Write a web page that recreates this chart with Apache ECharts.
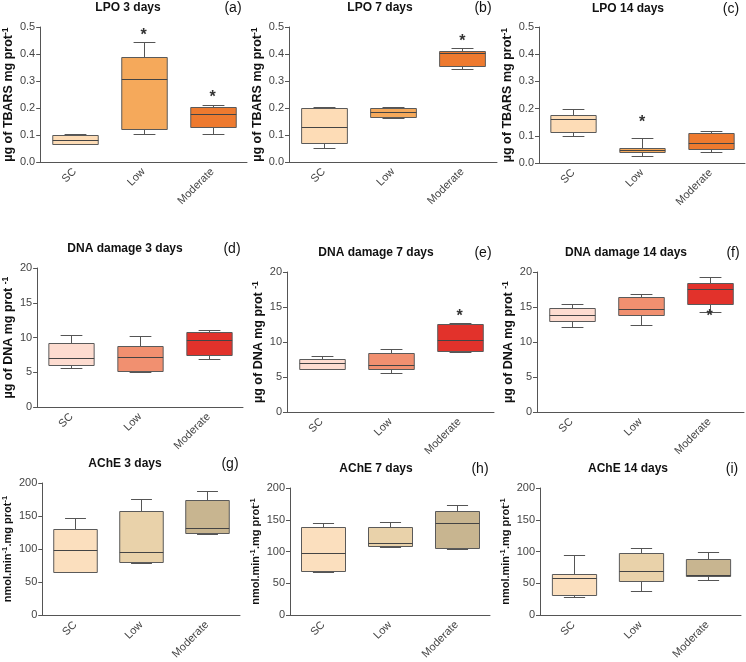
<!DOCTYPE html>
<html>
<head>
<meta charset="utf-8">
<script src="https://cdn.jsdelivr.net/npm/echarts@6/dist/echarts.min.js"></script>
<style>html,body{margin:0;padding:0;background:#fff}#c{width:746px;height:662px}</style>
</head>
<body>
<div id="c"></div>
<script>
// ---- DATA ----
const categories = ['SC', 'Low', 'Moderate'];
// each entry: [min, Q1, median, Q3, max]
const lpo3  = [[0.066,0.068,0.080,0.100,0.102],[0.103,0.124,0.306,0.389,0.445],[0.103,0.129,0.177,0.205,0.210]];
const lpo7  = [[0.052,0.070,0.128,0.199,0.202],[0.163,0.166,0.185,0.200,0.204],[0.344,0.357,0.402,0.410,0.421]];
const lpo14 = [[0.100,0.115,0.163,0.175,0.200],[0.025,0.040,0.048,0.056,0.092],[0.042,0.052,0.073,0.112,0.118]];
const dna3  = [[5.68,6.01,7.11,9.26,10.31],[5.06,5.16,7.16,8.74,10.20],[6.97,7.45,9.69,10.74,11.12]];
const dna7  = [[6.08,6.17,6.94,7.60,7.99],[5.60,6.17,6.75,8.37,9.04],[8.61,8.76,10.29,12.54,12.78]];
const dna14 = [[12.20,12.97,13.83,14.83,15.41],[12.44,13.92,14.69,16.50,16.79],[14.30,15.41,17.60,18.47,19.23]];
const ache3  = [[65.2,65.7,98.0,129.9,147.3],[79.1,80.1,95.0,157.7,175.1],[122.9,123.9,132.3,173.6,187.6]];
const ache7  = [[67.7,68.7,97.0,139.3,145.3],[107.0,108.5,113.4,138.3,146.3],[104.0,105.0,145.3,163.7,173.1]];
const ache14 = [[28.4,31.3,57.7,64.7,95.0],[37.8,54.2,70.1,98.5,106.0],[55.2,61.2,62.7,88.6,100.0]];
// asterisk positions (value per category, null = none)
const lpo3Stars  = [null, 0.479, 0.251];
const lpo7Stars  = [null, null, 0.457];
const lpo14Stars = [null, 0.161, null];
const dna3Stars  = [null, null, null];
const dna7Stars  = [null, null, 14.1];
const dna14Stars = [null, null, 14.0];
const ache3Stars = [null, null, null];
const ache7Stars = [null, null, null];
const ache14Stars= [null, null, null];
const titles = ['LPO 3 days','LPO 7 days','LPO 14 days','DNA damage 3 days','DNA damage 7 days','DNA damage 14 days','AChE 3 days','AChE 7 days','AChE 14 days'];
const letters = ['(a)','(b)','(c)','(d)','(e)','(f)','(g)','(h)','(i)'];
const lpoTicks = {min:0, max:0.5, interval:0.1};
const dnaTicks = {min:0, max:20, interval:5};
const acheTicks = {min:0, max:200, interval:50};

// ---- STYLE / LAYOUT ----
const lpoColors  = ['#fddcb6','#f5a95b','#ee7a2f'];
const dnaColors  = ['#fddcd0','#f19070','#e2322b'];
const acheColors = ['#fbdfbe','#e9d2aa','#c8b590'];
const FONT = 'Liberation Sans, Arial, sans-serif';

const panels = [
  {data:lpo3,  stars:lpo3Stars,  ticks:lpoTicks, colors:lpoColors, name:'µg of TBARS mg prot{s|-1}', dec:1, nf:12.5, gap:21, grid:{left:39,top:27,width:208,height:135}, tx:128,ty:8, lx:233},
  {data:lpo7,  stars:lpo7Stars,  ticks:lpoTicks, colors:lpoColors, name:'µg of TBARS mg prot{s|-1}', dec:1, nf:12.5, gap:21, grid:{left:289,top:27,width:208,height:135}, tx:380,ty:8, lx:483},
  {data:lpo14, stars:lpo14Stars, ticks:lpoTicks, colors:lpoColors, name:'µg of TBARS mg prot{s|-1}', dec:1, nf:12.5, gap:21, grid:{left:539,top:27,width:206,height:136}, tx:628,ty:9, lx:731},
  {data:dna3,  stars:dna3Stars,  ticks:dnaTicks, colors:dnaColors, name:'µg of DNA mg prot {s|-1}', dec:0, nf:12.5, gap:17, grid:{left:36,top:268,width:207,height:139}, tx:125,ty:249, lx:232},
  {data:dna7,  stars:dna7Stars,  ticks:dnaTicks, colors:dnaColors, name:'µg of DNA mg prot {s|-1}', dec:0, nf:12.5, gap:17, grid:{left:287,top:272,width:207,height:140}, tx:376,ty:253, lx:483},
  {data:dna14, stars:dna14Stars, ticks:dnaTicks, colors:dnaColors, name:'µg of DNA mg prot {s|-1}', dec:0, nf:12.5, gap:17, grid:{left:537,top:272,width:207,height:140}, tx:626,ty:253, lx:733},
  {data:ache3, stars:ache3Stars, ticks:acheTicks, colors:acheColors, name:'nmol.min{s|-1}.mg prot{s|-1}', dec:0, nf:11, gap:22, grid:{left:40,top:483,width:200,height:134}, tx:125,ty:464, lx:230},
  {data:ache7, stars:ache7Stars, ticks:acheTicks, colors:acheColors, name:'nmol.min{s|-1}.mg prot{s|-1}', dec:0, nf:11, gap:22, grid:{left:290,top:488,width:200,height:134}, tx:376,ty:469, lx:480},
  {data:ache14,stars:ache14Stars,ticks:acheTicks, colors:acheColors, name:'nmol.min{s|-1}.mg prot{s|-1}', dec:0, nf:11, gap:22, grid:{left:540,top:488,width:201,height:134}, tx:628,ty:469, lx:732}
];

const axisColor = '#555';
const grids = [], xAxes = [], yAxes = [], series = [], graphics = [];

function renderBox(params, api) {
  const i = api.value(0);
  const pMin = api.coord([i, api.value(1)]);
  const pQ1  = api.coord([i, api.value(2)]);
  const pMed = api.coord([i, api.value(3)]);
  const pQ3  = api.coord([i, api.value(4)]);
  const pMax = api.coord([i, api.value(5)]);
  const band = api.size([1, 0])[0];
  const bw = band * 0.66, cw = bw * 0.48;
  const cx = Math.round(pMin[0]) + 0.5;
  const stroke = {stroke: '#555', lineWidth: 1};
  const r = v => Math.round(v) + 0.5;
  return {
    type: 'group',
    children: [
      {type:'line', shape:{x1:cx,y1:r(pMax[1]),x2:cx,y2:r(pQ3[1])}, style:stroke},
      {type:'line', shape:{x1:cx-cw/2,y1:r(pMax[1]),x2:cx+cw/2,y2:r(pMax[1])}, style:stroke},
      {type:'line', shape:{x1:cx,y1:r(pQ1[1]),x2:cx,y2:r(pMin[1])}, style:stroke},
      {type:'line', shape:{x1:cx-cw/2,y1:r(pMin[1]),x2:cx+cw/2,y2:r(pMin[1])}, style:stroke},
      {type:'rect', shape:{x:cx-bw/2, y:r(pQ3[1]), width:bw, height:r(pQ1[1])-r(pQ3[1])},
        style:{fill: api.visual('color'), stroke:'#5a5a5a', lineWidth:1}},
      {type:'line', shape:{x1:cx-bw/2,y1:r(pMed[1]),x2:cx+bw/2,y2:r(pMed[1])}, style:{stroke:'#444', lineWidth:1.2}}
    ]
  };
}
function renderStar(params, api) {
  const p = api.coord([api.value(0), api.value(1)]);
  return {type:'text', x:p[0], y:p[1] + 3,
    style:{text:'*', fontSize:16, fontWeight:'bold', fontFamily:FONT, fill:'#333', align:'center', verticalAlign:'middle'}};
}

panels.forEach((p, k) => {
  grids.push(Object.assign({containLabel:false}, p.grid));
  xAxes.push({
    type:'category', gridIndex:k, data:categories, boundaryGap:true,
    axisLine:{lineStyle:{color:axisColor, width:1}},
    axisTick:{alignWithLabel:true, length:4, lineStyle:{color:axisColor}},
    axisLabel:{rotate:45, fontSize:11, color:'#444', fontFamily:FONT, margin:8}
  });
  yAxes.push({
    type:'value', gridIndex:k, min:p.ticks.min, max:p.ticks.max, interval:p.ticks.interval,
    splitLine:{show:false},
    axisLine:{show:true, lineStyle:{color:axisColor, width:1}},
    axisTick:{show:true, length:4, lineStyle:{color:axisColor}},
    axisLabel:{fontSize:11, color:'#444', fontFamily:FONT, margin:5,
      formatter: v => v.toFixed(p.dec)},
    name:p.name, nameLocation:'middle', nameRotate:90, nameGap: p.gap,
    nameTextStyle:{fontSize:p.nf, fontWeight:'bold', color:'#111', fontFamily:FONT,
      rich:{s:{fontSize:p.nf*0.7, fontWeight:'bold', color:'#111', fontFamily:FONT, verticalAlign:'top', lineHeight:p.nf+3, padding:[0,0,6,0]}}}
  });
  series.push({
    type:'custom', xAxisIndex:k, yAxisIndex:k, renderItem:renderBox,
    encode:{x:0, y:[1,2,3,4,5]},
    data: p.data.map((d, i) => ({value:[i].concat(d), itemStyle:{color:p.colors[i]}})),
    z:2
  });
  const starData = [];
  p.stars.forEach((v, i) => { if (v !== null) starData.push([i, v]); });
  if (starData.length) {
    series.push({type:'custom', xAxisIndex:k, yAxisIndex:k, renderItem:renderStar, encode:{x:0,y:1}, data:starData, z:3});
  }
  graphics.push({type:'text', x:p.tx, y:p.ty, style:{text:titles[k], fontSize:12, fontWeight:'bold', fontFamily:FONT, fill:'#111', align:'center', verticalAlign:'middle'}});
  graphics.push({type:'text', x:p.lx, y:p.ty, style:{text:letters[k], fontSize:14, fontFamily:FONT, fill:'#111', align:'center', verticalAlign:'middle'}});
});

const chart = echarts.init(document.getElementById('c'), null, {renderer:'canvas'});
chart.setOption({
  animation:false,
  backgroundColor:'#fff',
  grid:grids, xAxis:xAxes, yAxis:yAxes, series:series, graphic:graphics
});
</script>
</body>
</html>
